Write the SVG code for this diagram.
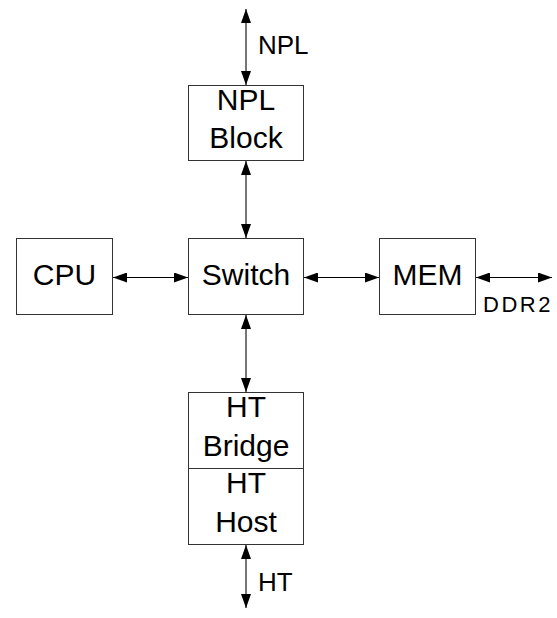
<svg xmlns="http://www.w3.org/2000/svg" width="557" height="618" viewBox="0 0 557 618">
  <style>
    .box { fill: #ffffff; stroke: #333333; stroke-width: 1; }
    .lbl { font-family: "Liberation Sans", Arial, sans-serif; font-size: 30px; fill: #000000; text-anchor: middle; }
    .ext { font-family: "Liberation Sans", Arial, sans-serif; font-size: 26px; fill: #000000; }
    .h { stroke: #000000; stroke-width: 1; fill: none; marker-start: url(#arr); marker-end: url(#arr); }
    .v { stroke: #777777; stroke-width: 2; fill: none; marker-start: url(#arr); marker-end: url(#arr); }
  </style>
  <defs>
    <marker id="arr" viewBox="0 0 14 10" refX="14" refY="5" markerWidth="14" markerHeight="10" markerUnits="userSpaceOnUse" orient="auto-start-reverse">
      <path d="M0,0 L14,5 L0,10 Z" fill="#000000"/>
    </marker>
  </defs>
  <rect width="557" height="618" fill="#ffffff"/>

  <g id="connectors">
    <line class="v" x1="246" y1="9" x2="246" y2="85"/>
    <line class="v" x1="246" y1="161" x2="246" y2="238"/>
    <line class="v" x1="246" y1="315" x2="246" y2="392"/>
    <line class="v" x1="246" y1="545" x2="246" y2="608"/>
    <line class="h" x1="113" y1="277.5" x2="188" y2="277.5"/>
    <line class="h" x1="304" y1="277.5" x2="379" y2="277.5"/>
    <line class="h" x1="476" y1="277.5" x2="552" y2="277.5"/>
    <text class="ext" x="258" y="54">NPL</text>
    <text class="ext" x="483" y="312" style="font-size:22px; letter-spacing:2.5px">DDR2</text>
    <text class="ext" x="258" y="591">HT</text>
  </g>

  <g id="npl-block">
    <rect class="box" x="188.5" y="85.5" width="115" height="75"/>
    <text class="lbl" x="246" y="110">NPL</text>
    <text class="lbl" x="246" y="148">Block</text>
  </g>

  <g id="cpu">
    <rect class="box" x="16.5" y="238.5" width="96" height="76"/>
    <text class="lbl" x="64.5" y="285">CPU</text>
  </g>

  <g id="switch">
    <rect class="box" x="188.5" y="238.5" width="115" height="76"/>
    <text class="lbl" x="246" y="285">Switch</text>
  </g>

  <g id="mem">
    <rect class="box" x="379.5" y="238.5" width="96" height="76"/>
    <text class="lbl" x="427.5" y="285">MEM</text>
  </g>

  <g id="ht-bridge">
    <rect class="box" x="188.5" y="392.5" width="115" height="76"/>
    <text class="lbl" x="246" y="417">HT</text>
    <text class="lbl" x="246" y="456">Bridge</text>
  </g>

  <g id="ht-host">
    <rect class="box" x="188.5" y="468.5" width="115" height="76"/>
    <text class="lbl" x="246" y="493">HT</text>
    <text class="lbl" x="246" y="532">Host</text>
  </g>
</svg>
